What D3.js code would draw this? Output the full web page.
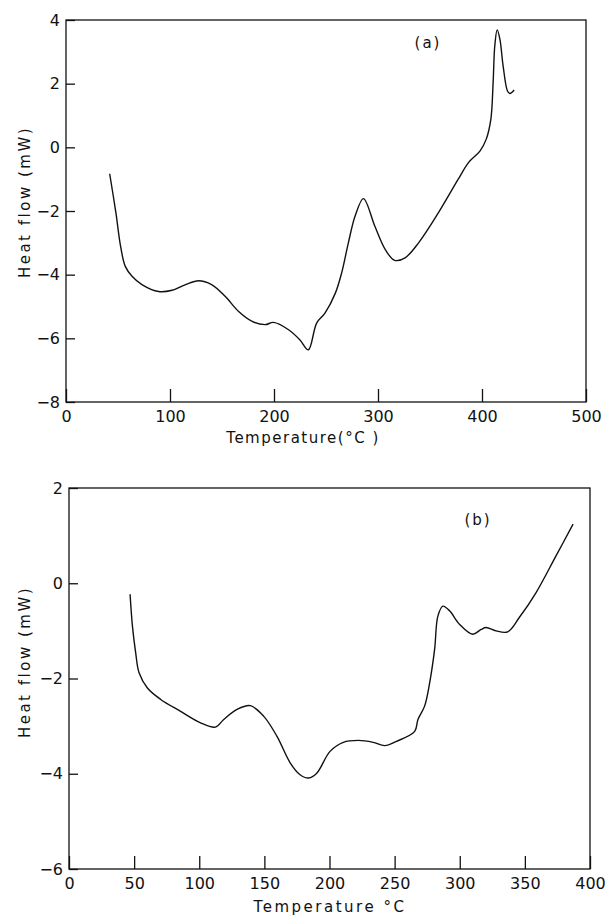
<!DOCTYPE html>
<html>
<head>
<meta charset="utf-8">
<script src="https://cdn.jsdelivr.net/npm/d3@7"></script>
<style>
  body { margin: 0; background: #fff; }
  svg { display: block; }
  .tick text { font-family: "DejaVu Sans", sans-serif; font-size: 16px; fill: #111; }
  .tick line { stroke: #111; stroke-width: 1.3; }
  .frame { fill: none; stroke: #111; stroke-width: 1.3; }
  .curve { fill: none; stroke: #111; stroke-width: 1.4; }
  .title { font-family: "DejaVu Sans", sans-serif; font-size: 15px; fill: #111; }
</style>
</head>
<body>
<script>
// panel (a): DSC trace, temperature (°C) vs heat flow (mW)
var tempA = [42, 48, 52.5, 57, 63.5, 73, 89, 102, 115, 127.5, 140, 153, 166, 179, 191.5, 199.5, 214, 225, 233,
             241, 249, 259, 265, 271.5, 278, 286, 297, 307, 316, 326, 339, 358, 377, 387, 398, 404, 408.5, 410.7,
             412.3, 414.6, 417.2, 420.3, 424.5, 426.8, 430.9];
var flowA = [-0.83, -2.06, -3.11, -3.74, -4.05, -4.31, -4.53, -4.49, -4.31, -4.19, -4.31, -4.68, -5.16, -5.47, -5.57, -5.50, -5.73, -6.05, -6.36,
             -5.52, -5.21, -4.58, -3.95, -3.0, -2.16, -1.61, -2.48, -3.21, -3.55, -3.47, -3.0, -2.06, -1.01, -0.48, -0.12, 0.25, 0.88, 2.04,
             3.19, 3.69, 3.40, 2.56, 1.77, 1.69, 1.80];

// panel (b)
var tempB = [46.9, 48.7, 51.2, 53.8, 60.2, 70.4, 85.7, 101, 112.4, 118.8, 129, 139.2, 149.4, 159.6, 169.8, 177.4, 184,
             190.2, 200.4, 210.6, 222, 233.5, 242.4, 251.4, 265.4, 267.9, 273, 276.9, 280.7, 283.2, 287.1, 292.2, 299.8,
             310, 316.4, 320.2, 327.9, 336.8, 345.7, 358.5, 373.8, 387];
var flowB = [-0.23, -0.90, -1.46, -1.88, -2.20, -2.44, -2.69, -2.93, -3.02, -2.86, -2.65, -2.57, -2.79, -3.21, -3.77, -4.02, -4.09,
             -3.99, -3.53, -3.34, -3.30, -3.34, -3.41, -3.32, -3.11, -2.86, -2.58, -2.09, -1.39, -0.69, -0.48, -0.58, -0.86,
             -1.07, -0.97, -0.93, -1.00, -1.02, -0.72, -0.20, 0.57, 1.24];

var xTicksA = [0, 100, 200, 300, 400, 500];
var yTicksA = [4, 2, 0, -2, -4, -6, -8];
var xTicksB = [0, 50, 100, 150, 200, 250, 300, 350, 400];
var yTicksB = [2, 0, -2, -4, -6];

var width = 616, height = 918;

var svg = d3.select("body").append("svg")
    .attr("width", width)
    .attr("height", height);

var fmt = function(d){ return d < 0 ? "\u2212" + Math.abs(d) : String(d); };

function drawPanel(opt){
    var x = d3.scaleLinear().domain(opt.xDomain).range(opt.xRange);
    var y = d3.scaleLinear().domain(opt.yDomain).range(opt.yRange);

    //frame
    svg.append("rect")
        .attr("class", "frame")
        .attr("x", opt.xRange[0])
        .attr("y", opt.yRange[1])
        .attr("width", opt.xRange[1] - opt.xRange[0])
        .attr("height", opt.yRange[0] - opt.yRange[1]);

    //axes with inward ticks
    var gx = svg.append("g")
        .attr("transform", "translate(0," + opt.yRange[0] + ")")
        .call(d3.axisBottom(x).tickValues(opt.xTicks).tickSizeInner(-13).tickSizeOuter(0).tickPadding(9));
    gx.select(".domain").remove();

    var gy = svg.append("g")
        .attr("transform", "translate(" + opt.xRange[0] + ",0)")
        .call(d3.axisLeft(y).tickValues(opt.yTicks).tickFormat(fmt).tickSizeInner(-9).tickSizeOuter(0).tickPadding(6));
    gy.select(".domain").remove();

    //curve
    var pts = opt.temps.map(function(t, i){ return [t, opt.flows[i]]; });
    svg.append("path")
        .datum(pts)
        .attr("class", "curve")
        .attr("d", d3.line()
            .x(function(d){ return x(d[0]); })
            .y(function(d){ return y(d[1]); })
            .curve(d3.curveCatmullRom.alpha(0.5)));

    //labels
    svg.append("text")
        .attr("class", "title")
        .attr("transform", "translate(" + opt.yLabelX + "," + opt.yLabelY + ") rotate(-90)")
        .attr("text-anchor", "middle")
        .style("letter-spacing", "2.5px")
        .text("Heat  flow  (mW)");

    svg.append("text")
        .attr("class", "title")
        .attr("x", opt.xLabelX)
        .attr("y", opt.xLabelY)
        .attr("text-anchor", "middle")
        .style("letter-spacing", opt.xLabelSpacing)
        .text(opt.xLabel);

    svg.append("text")
        .attr("class", "title")
        .attr("x", opt.tagX)
        .attr("y", opt.tagY)
        .attr("text-anchor", "middle")
        .style("letter-spacing", "2px")
        .text(opt.tag);
}

drawPanel({
    xDomain: [0, 500], xRange: [66, 586],
    yDomain: [-8, 4], yRange: [402, 20],
    xTicks: xTicksA, yTicks: yTicksA,
    temps: tempA, flows: flowA,
    yLabelX: 30, yLabelY: 202,
    xLabelX: 303, xLabelY: 443, xLabel: "Temperature(\u00b0C )", xLabelSpacing: "1.5px",
    tagX: 428, tagY: 48, tag: "(a)"
});

drawPanel({
    xDomain: [0, 400], xRange: [69, 590],
    yDomain: [-6, 2], yRange: [869, 488],
    xTicks: xTicksB, yTicks: yTicksB,
    temps: tempB, flows: flowB,
    yLabelX: 30, yLabelY: 662,
    xLabelX: 330, xLabelY: 912, xLabel: "Temperature  \u00b0C", xLabelSpacing: "2.5px",
    tagX: 478, tagY: 525, tag: "(b)"
});
</script>
</body>
</html>
